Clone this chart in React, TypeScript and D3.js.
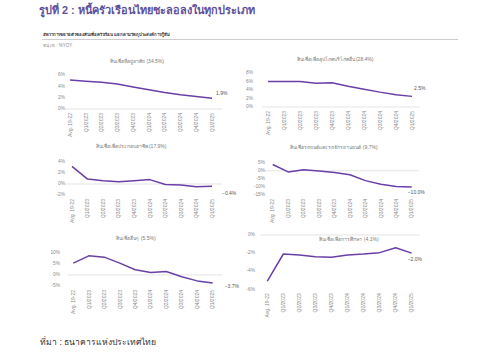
import React from "react";
import * as d3 from "d3";

const categories = ["Avg. 19-22", "Q1/2023", "Q2/2023", "Q3/2023", "Q4/2023", "Q1/2024", "Q2/2024", "Q3/2024", "Q4/2024", "Q1/2025"];

const panelTitles = [
  "สินเชื่อที่อยู่อาศัย (34.5%)",
  "สินเชื่อเพื่ออุปโภคบริโภคอื่น (28.4%)",
  "สินเชื่อเพื่อประกอบอาชีพ (17.9%)",
  "สินเชื่อรถยนต์และรถจักรยานยนต์ (9.7%)",
  "สินเชื่ออื่นๆ (5.5%)",
  "สินเชื่อเพื่อการศึกษา (4.1%)",
];

const housing = [5.1, 4.9, 4.7, 4.4, 3.9, 3.4, 2.9, 2.5, 2.2, 1.9];
const consumption = [6.0, 6.0, 6.0, 5.6, 5.7, 4.9, 4.2, 3.5, 2.9, 2.5];
const business = [3.2, 0.9, 0.6, 0.4, 0.6, 0.8, -0.1, -0.2, -0.5, -0.4];
const auto = [3.9, -0.7, 0.7, -0.1, -1.1, -2.5, -6.1, -8.3, -9.8, -10.0];
const others = [5.3, 8.6, 8.0, 5.3, 2.3, 1.1, 1.5, -0.8, -2.7, -3.7];
const education = [-5.1, -2.1, -2.2, -2.4, -2.45, -2.2, -2.1, -1.95, -1.4, -2.0];

const seriesList = [housing, consumption, business, auto, others, education];

const yTicks = [
  [0, 2, 4, 6],
  [0, 2, 4, 6, 8],
  [-2, 0, 2, 4],
  [-15, -10, -5, 0, 5],
  [-5, 0, 5, 10],
  [-6, -4, -2, 0],
];

// layout (positions only)
const layouts = [
  { x0: 70, x1: 212, yB: 109, yT: 75, tickX: 65, g0: 65, g1: 222, tx: 137, ty: 62, ldx: 4, ldy: -5 },
  { x0: 268, x1: 412, yB: 107, yT: 73, tickX: 253, g0: 262, g1: 420, tx: 335, ty: 60, ldx: 2, ldy: -8 },
  { x0: 72, x1: 212, yB: 195, yT: 162, tickX: 65, g0: 65, g1: 222, tx: 131, ty: 147, ldx: 10, ldy: 7 },
  { x0: 272.7, x1: 411.7, yB: 195, yT: 162.7, tickX: 265, g0: 265, g1: 419, tx: 334, ty: 148, ldx: -4, ldy: 6 },
  { x0: 73.3, x1: 212.7, yB: 286, yT: 252.7, tickX: 60, g0: 68, g1: 222, tx: 136, ty: 239, ldx: 12, ldy: 4 },
  { x0: 267.3, x1: 411.7, yB: 289.3, yT: 235, tickX: 255, g0: 260, g1: 420, tx: 349, ty: 239.5, ldx: -4, ldy: 7 },
];

const LINE = "#6a3fa6";
const FONT = "'Liberation Sans', 'Noto Sans', Arial, sans-serif";

function Panel({ idx }: { idx: number }) {
  const L = layouts[idx];
  const data = seriesList[idx];
  const ticks = yTicks[idx];
  const x = d3.scalePoint<string>().domain(categories).range([L.x0, L.x1]);
  const y = d3.scaleLinear().domain([ticks[0], ticks[ticks.length - 1]]).range([L.yB, L.yT]);
  const line = d3
    .line<number>()
    .x((_, i) => x(categories[i]) as number)
    .y((d) => y(d));
  const last = data[data.length - 1];
  const lx = x(categories[categories.length - 1]) as number;
  return (
    <g>
      <text x={L.tx} y={L.ty} textAnchor="middle" dominantBaseline="middle" fontSize={5} fill="#7a7a7a">
        {panelTitles[idx]}
      </text>
      <line x1={L.g0} x2={L.g1} y1={y(0)} y2={y(0)} stroke="#d9d9d9" strokeWidth={0.7} />
      {ticks.map((t) => (
        <text key={t} x={L.tickX} y={y(t)} textAnchor="end" dominantBaseline="middle" fontSize={4.8} fill="#8a8a8a">
          {t + "%"}
        </text>
      ))}
      {categories.map((c) => (
        <text
          key={c}
          transform={`translate(${x(c)},${L.yB + 4}) rotate(-90)`}
          textAnchor="end"
          dy="0.35em"
          fontSize={5}
          fill="#8a8a8a"
        >
          {c}
        </text>
      ))}
      <path d={line(data) || ""} fill="none" stroke={LINE} strokeWidth={1.5} strokeLinejoin="round" />
      <text x={lx + L.ldx} y={y(last) + L.ldy} dominantBaseline="middle" fontSize={5} fill="#555">
        {d3.format(".1f")(last) + "%"}
      </text>
    </g>
  );
}

export default function App() {
  return (
    <svg
      width={500}
      height={361}
      style={{ position: "absolute", left: 0, top: 0, background: "#fff" }}
      fontFamily={FONT}
    >
      <rect width={500} height={361} fill="#fff" />
      <text x={39} y={11} dominantBaseline="middle" fontSize={10.9} fontWeight="bold" fill="#5e4f9c">
        รูปที่ 2 : หนี้ครัวเรือนไทยชะลอลงในทุกประเภท
      </text>
      <text x={43} y={35} dominantBaseline="middle" fontSize={4.3} fontWeight="bold" fill="#333">
        อัตราการขยายตัวของสินเชื่อครัวเรือน แยกตามวัตถุประสงค์การกู้ยืม
      </text>
      <line x1={42} x2={458} y1={39.5} y2={39.5} stroke="#999" strokeWidth={0.5} />
      <text x={43} y={46} dominantBaseline="middle" fontSize={4.5} fill="#888">
        หน่วย : %YOY
      </text>
      {layouts.map((_, i) => (
        <Panel key={i} idx={i} />
      ))}
      <text x={40} y={343} dominantBaseline="middle" fontSize={8.6} fill="#333">
        ที่มา : ธนาคารแห่งประเทศไทย
      </text>
    </svg>
  );
}
